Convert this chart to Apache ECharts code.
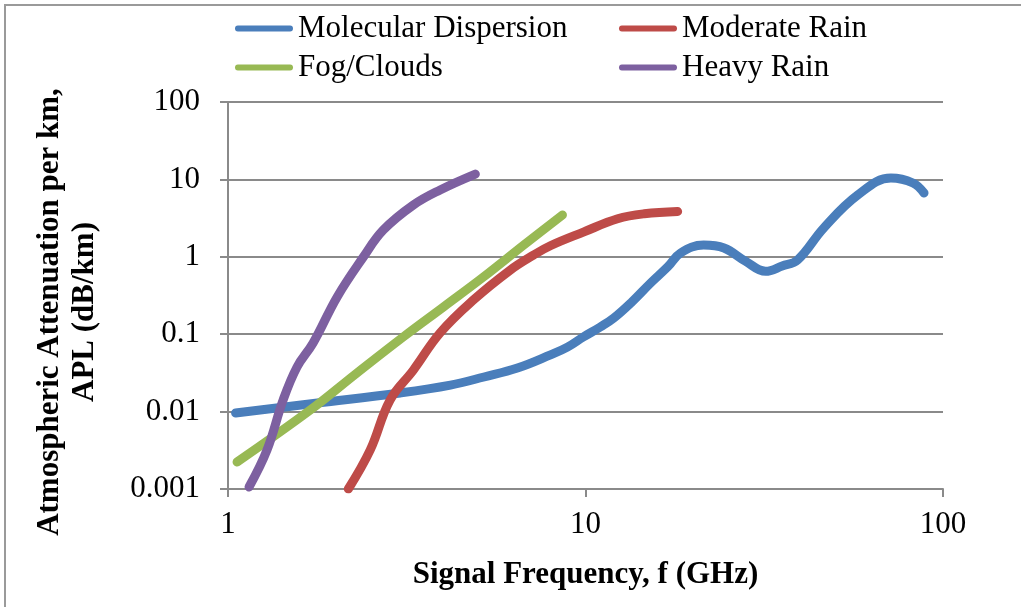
<!DOCTYPE html>
<html>
<head>
<meta charset="utf-8">
<script src="https://cdn.jsdelivr.net/npm/echarts@6/dist/echarts.min.js"></script>
<style>
  html, body { margin: 0; padding: 0; background: #fff; }
  #chart { width: 1021px; height: 607px; }
</style>
</head>
<body>
<div id="chart"></div>
<script>
// Attenuation per km vs. signal frequency (log-log)
const seriesNames = ['Molecular Dispersion', 'Moderate Rain', 'Fog/Clouds', 'Heavy Rain'];

// Molecular dispersion
const molFreq = [1.05, 1.78, 3.03, 4.19, 5.2, 6.45, 7.98, 8.9, 9.86, 11.0, 12.0, 13.5, 15.2, 17.0, 18.45, 21.4, 24.4, 28.0, 31.9, 35.5, 39.2, 46.4, 57.8, 71.5, 82.4, 88.5];
const molAtt  = [0.0096, 0.0129, 0.0174, 0.022, 0.028, 0.0365, 0.054, 0.068, 0.092, 0.124, 0.162, 0.263, 0.457, 0.745, 1.12, 1.42, 1.30, 0.88, 0.65, 0.76, 0.91, 2.36, 6.3, 10.4, 8.98, 6.67];

// Moderate rain
const modFreq = [2.17, 2.5, 2.84, 3.3, 3.92, 4.86, 6.16, 7.15, 8.0, 9.9, 12.3, 14.6, 18.1];
const modAtt  = [0.001, 0.0032, 0.0141, 0.0344, 0.104, 0.277, 0.674, 1.05, 1.4, 2.1, 3.1, 3.6, 3.85];

// Fog / clouds
const fogFreq = [1.06, 1.7, 2.29, 3.09, 4.01, 5.18, 6.72, 8.62];
const fogAtt  = [0.00223, 0.0105, 0.0313, 0.092, 0.226, 0.548, 1.42, 3.47];

// Heavy rain
const heavyFreq = [1.145, 1.286, 1.426, 1.56, 1.73, 2.02, 2.39, 2.72, 3.3, 3.92, 4.92];
const heavyAtt  = [0.00106, 0.0032, 0.0141, 0.0377, 0.0769, 0.303, 0.99, 2.22, 4.67, 7.3, 11.7];

const colors = ['#4A7EBB', '#BE4B48', '#98B954', '#7D60A0'];

const pairs = (xs, ys) => xs.map((x, i) => [x, ys[i]]);
const serif = '"Liberation Serif", "Times New Roman", serif';
const gridGrey = '#8a8a8a';
const pill = 'path://M5,0 L95,0 A5,5 0 0 1 95,10 L5,10 A5,5 0 0 1 5,0 Z';
const fmt = v => String(+Number(v).toPrecision(6));

function lineSeries(name, data, color) {
  return {
    name, type: 'line', data, smooth: 0.4, showSymbol: false, symbol: 'none',
    color,
    lineStyle: { width: 9, color, cap: 'round', join: 'round' },
    emphasis: { disabled: true }
  };
}

const legendText = { fontFamily: serif, fontSize: 31, color: '#000', lineHeight: 31 };

const option = {
  backgroundColor: '#fff',
  animation: false,
  legend: [
    {
      data: [seriesNames[0], seriesNames[2]], orient: 'vertical', left: 230, top: 8,
      icon: pill, itemWidth: 58, itemHeight: 9, itemGap: 8, textStyle: legendText, selectedMode: false
    },
    {
      data: [seriesNames[1], seriesNames[3]], orient: 'vertical', left: 614, top: 8,
      icon: pill, itemWidth: 58, itemHeight: 9, itemGap: 8, textStyle: legendText, selectedMode: false
    }
  ],
  grid: { left: 228, right: 78, top: 102, bottom: 118, containLabel: false },
  xAxis: {
    type: 'log', logBase: 10, min: 1, max: 100,
    name: 'Signal Frequency, f (GHz)', nameLocation: 'middle', nameGap: 70,
    nameTextStyle: { fontFamily: serif, fontSize: 31, fontWeight: 'bold', color: '#000' },
    axisLine: { show: true, lineStyle: { color: gridGrey, width: 2 } },
    axisTick: { show: true, inside: false, length: 8, lineStyle: { color: gridGrey, width: 2 } },
    minorTick: { show: false },
    splitLine: { show: false },
    axisLabel: { fontFamily: serif, fontSize: 31, color: '#000', margin: 20, formatter: fmt }
  },
  yAxis: {
    type: 'log', logBase: 10, min: 0.001, max: 100,
    axisLine: { show: true, lineStyle: { color: gridGrey, width: 2 } },
    axisTick: { show: true, inside: false, length: 8, lineStyle: { color: gridGrey, width: 2 } },
    splitLine: { show: true, lineStyle: { color: gridGrey, width: 2 } },
    axisLabel: { fontFamily: serif, fontSize: 31, color: '#000', margin: 28, formatter: fmt }
  },
  graphic: [
    {
      type: 'rect', silent: true, z: -1,
      shape: { x: 5, y: 5, width: 1200, height: 800 },
      style: { fill: 'none', stroke: '#9a9a9a', lineWidth: 2 }
    },
    {
      type: 'text', silent: true, x: 67, y: 312, rotation: Math.PI / 2,
      style: {
        text: 'Atmospheric Attenuation per km,\nAPL (dB/km)',
        font: 'bold 31px ' + serif, fill: '#000',
        align: 'center', verticalAlign: 'middle', lineHeight: 35
      }
    }
  ],
  series: [
    lineSeries(seriesNames[0], pairs(molFreq, molAtt), colors[0]),
    lineSeries(seriesNames[1], pairs(modFreq, modAtt), colors[1]),
    lineSeries(seriesNames[2], pairs(fogFreq, fogAtt), colors[2]),
    lineSeries(seriesNames[3], pairs(heavyFreq, heavyAtt), colors[3])
  ]
};

const chart = echarts.init(document.getElementById('chart'), null, { renderer: 'canvas' });
chart.setOption(option);
</script>
</body>
</html>
